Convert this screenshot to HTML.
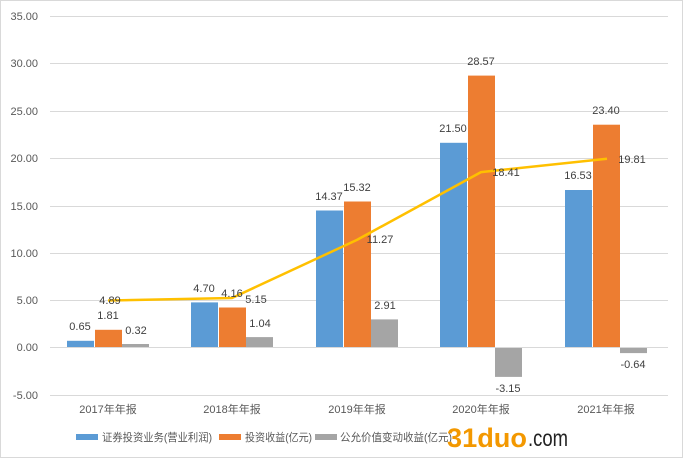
<!DOCTYPE html>
<html><head><meta charset="utf-8"><style>
body{margin:0;background:#fff}
svg{display:block;font-family:"Liberation Sans","Noto Sans CJK SC",sans-serif}
</style></head><body>
<svg width="683" height="458" viewBox="0 0 683 458" xmlns="http://www.w3.org/2000/svg">
<rect x="0" y="0" width="683" height="458" fill="#fff"/>
<rect x="0.5" y="0.5" width="682" height="457" fill="none" stroke="#d9d9d9"/>
<g stroke="#d9d9d9" stroke-width="1">
<line x1="50" x2="668" y1="16.5" y2="16.5"/><line x1="50" x2="668" y1="63.5" y2="63.5"/>
<line x1="50" x2="668" y1="111.5" y2="111.5"/><line x1="50" x2="668" y1="158.5" y2="158.5"/>
<line x1="50" x2="668" y1="206.5" y2="206.5"/><line x1="50" x2="668" y1="253.5" y2="253.5"/>
<line x1="50" x2="668" y1="300.5" y2="300.5"/><line x1="50" x2="668" y1="395.5" y2="395.5"/>
</g>
<g font-size="11" fill="#595959" text-anchor="end">
<text x="38" y="20">35.00</text><text x="38" y="67">30.00</text><text x="38" y="115">25.00</text>
<text x="38" y="162">20.00</text><text x="38" y="210">15.00</text><text x="38" y="257">10.00</text>
<text x="38" y="304">5.00</text><text x="38" y="351">0.00</text><text x="38" y="399">-5.00</text>
</g>
<g>
<rect x="67" y="340.8" width="27" height="6.2" fill="#5b9bd5"/>
<rect x="95" y="329.8" width="27" height="17.2" fill="#ed7d31"/>
<rect x="122" y="344" width="27" height="3" fill="#a5a5a5"/>
<rect x="191" y="302.4" width="27" height="44.6" fill="#5b9bd5"/>
<rect x="219" y="307.5" width="27" height="39.5" fill="#ed7d31"/>
<rect x="246" y="337.1" width="27" height="9.9" fill="#a5a5a5"/>
<rect x="316" y="210.5" width="27" height="136.5" fill="#5b9bd5"/>
<rect x="344" y="201.5" width="27" height="145.5" fill="#ed7d31"/>
<rect x="371" y="319.4" width="27" height="27.6" fill="#a5a5a5"/>
<rect x="440" y="142.8" width="27" height="204.2" fill="#5b9bd5"/>
<rect x="468" y="75.6" width="27" height="271.4" fill="#ed7d31"/>
<rect x="495" y="347" width="27" height="29.9" fill="#a5a5a5"/>
<rect x="565" y="190" width="27" height="157" fill="#5b9bd5"/>
<rect x="593" y="124.7" width="27" height="222.3" fill="#ed7d31"/>
<rect x="620" y="347" width="27" height="6.1" fill="#a5a5a5"/>
</g>
<line x1="50" x2="668" y1="347.5" y2="347.5" stroke="#d9d9d9"/>
<polyline points="108,300.5 232,298 357,239.9 481,172.1 607,158.8" fill="none" stroke="#ffc000" stroke-width="2.5" stroke-linejoin="round"/>
<g font-size="11" fill="#404040" text-anchor="middle">
<text x="80" y="330">0.65</text><text x="108" y="319">1.81</text><text x="136" y="334">0.32</text>
<text x="204" y="292">4.70</text><text x="232" y="297">4.16</text><text x="260" y="327">1.04</text>
<text x="329" y="200">14.37</text><text x="357" y="191">15.32</text><text x="385" y="309">2.91</text>
<text x="453" y="132">21.50</text><text x="481" y="65">28.57</text><text x="508" y="392">-3.15</text>
<text x="578" y="179">16.53</text><text x="606" y="114">23.40</text><text x="633" y="368">-0.64</text>
<text x="110" y="304">4.89</text><text x="256" y="303">5.15</text><text x="380" y="243">11.27</text>
<text x="506" y="176">18.41</text><text x="632" y="163">19.81</text>
</g>
<g font-size="11" fill="#595959" text-anchor="middle">
<text x="108" y="413">2017年年报</text><text x="232" y="413">2018年年报</text><text x="357" y="413">2019年年报</text>
<text x="481" y="413">2020年年报</text><text x="606" y="413">2021年年报</text>
</g>
<g font-size="11" fill="#595959">
<rect x="76" y="434" width="22" height="6" fill="#5b9bd5"/><text x="102" y="441" textLength="110" lengthAdjust="spacingAndGlyphs">证券投资业务(营业利润)</text>
<rect x="219" y="434" width="22" height="6" fill="#ed7d31"/><text x="245" y="441" textLength="67" lengthAdjust="spacingAndGlyphs">投资收益(亿元)</text>
<rect x="315" y="434" width="22" height="6" fill="#a5a5a5"/><text x="340" y="441" textLength="112" lengthAdjust="spacingAndGlyphs">公允价值变动收益(亿元)</text>
</g>
<text x="447" y="447" font-size="27" font-weight="bold" fill="#f39800" textLength="80" lengthAdjust="spacingAndGlyphs">31duo</text>
<text x="528" y="446" font-size="23" fill="#222" textLength="40" lengthAdjust="spacingAndGlyphs">.com</text>
</svg>
</body></html>
